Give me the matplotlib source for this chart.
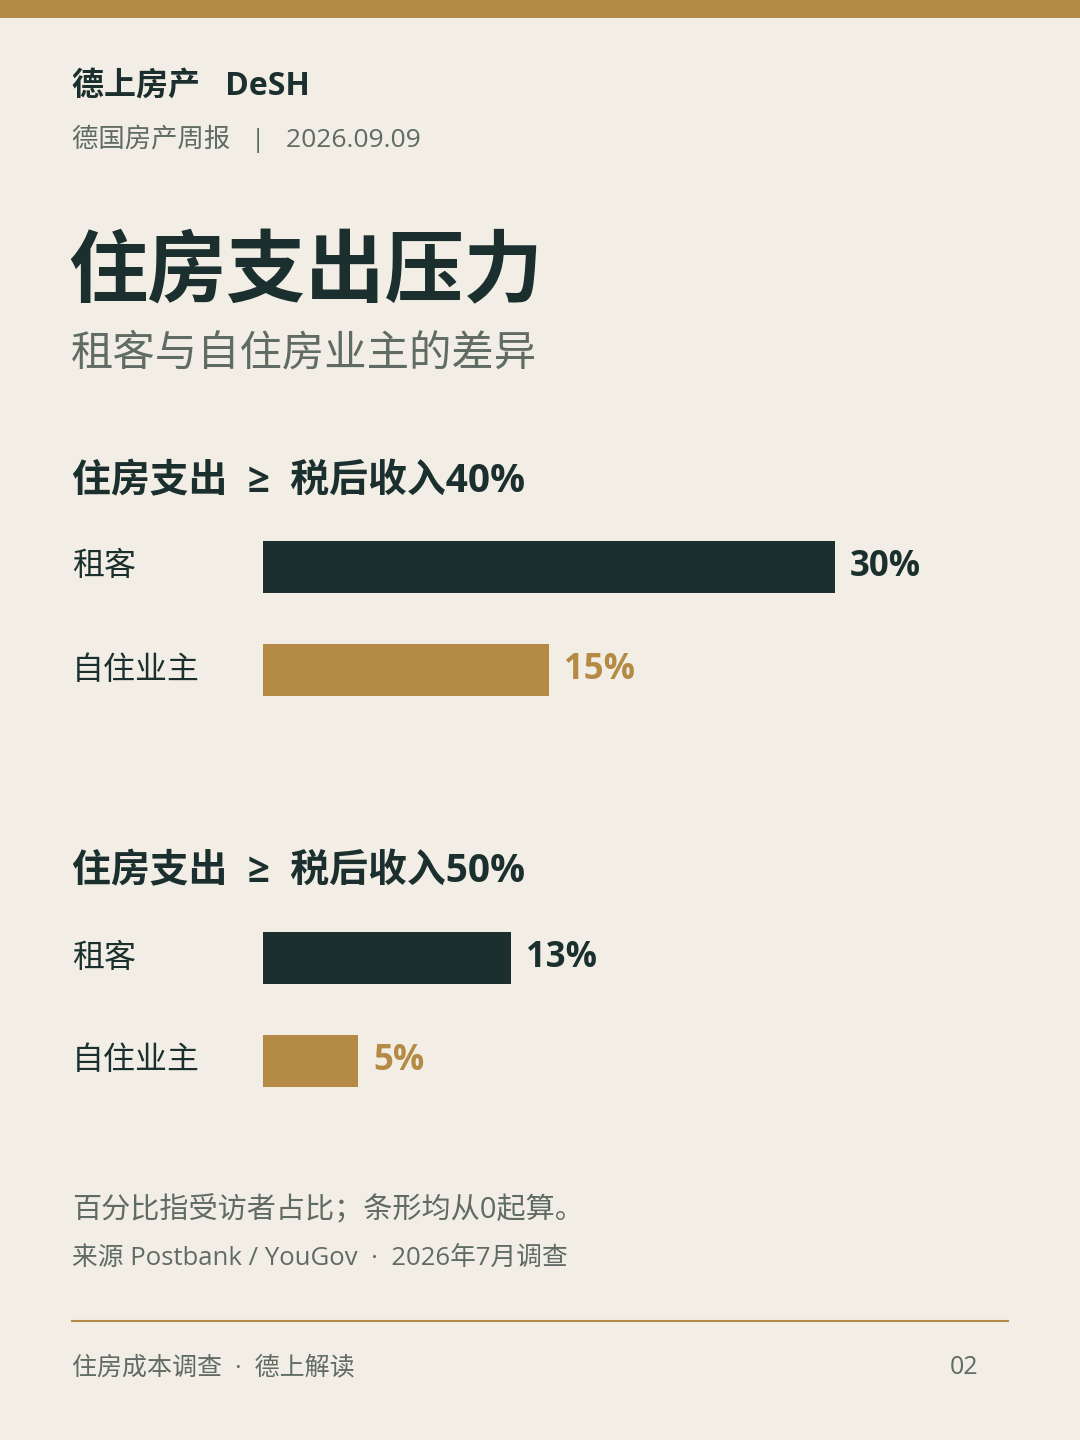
import matplotlib
matplotlib.use("Agg")
import matplotlib.pyplot as plt
from matplotlib.transforms import blended_transform_factory

W, H = 1080, 1440
BG = "#F2EEE5"
DARK = "#1B302E"
GOLD = "#B58A45"
GREY = "#5F6B63"

# Latin glyphs from Open Sans, the ≥ sign from DejaVu, Chinese from the CJK family
plt.rcParams["font.family"] = ["Open Sans", "DejaVu Sans", "Noto Sans CJK SC"]

# data
groups = ["住房支出  ≥  税后收入40%", "住房支出  ≥  税后收入50%"]
categories = ["租客", "自住业主"]
renters = [30, 13]
owners = [15, 5]

brand = "德上房产   DeSH"
issue = "德国房产周报   |   2026.09.09"
title = "住房支出压力"
subtitle = "租客与自住房业主的差异"
note = "百分比指受访者占比；条形均从0起算。"
source = "来源 Postbank / YouGov  ·  2026年7月调查"
footer_left = "住房成本调查  ·  德上解读"
footer_right = "02"

PX_PER_PCT = 19.05
BAR_X0 = 263
ROW_GAP = 103
first_bar_centers = [567, 958]
heading_y = [482, 872]


def fx(px):
    return px / W


def fy(py):
    return 1 - py / H


fig = plt.figure(figsize=(W / 100, H / 100), dpi=100)
fig.patch.set_facecolor(BG)

# top band
fig.add_artist(plt.Rectangle((0, fy(18)), 1, 18 / H, transform=fig.transFigure,
                             color=GOLD, lw=0))

fig.text(fx(72), fy(86), brand, fontsize=23, fontweight="bold", color=DARK, va="center")
fig.text(fx(72), fy(139), issue, fontsize=19, color=GREY, va="center")
fig.text(fx(68), fy(276), title, fontsize=57, fontweight="bold", color=DARK, va="center")
fig.text(fx(71), fy(355), subtitle, fontsize=30.5, color=GREY, va="center")

for g, name in enumerate(groups):
    fig.text(fx(72), fy(heading_y[g]), name, fontsize=28, fontweight="bold",
             color=DARK, va="center")
    top = first_bar_centers[g] - ROW_GAP / 2
    ax = fig.add_axes([fx(BAR_X0), fy(top + 2 * ROW_GAP),
                       40 * PX_PER_PCT / W, 2 * ROW_GAP / H])
    ax.set_xlim(0, 40)
    ax.set_ylim(1.5, -0.5)
    ax.axis("off")
    vals = [renters[g], owners[g]]
    colors = [DARK, GOLD]
    ax.barh([0, 1], vals, height=0.505, color=colors)
    trans = blended_transform_factory(fig.transFigure, ax.transData)
    for i, (cat, v, c) in enumerate(zip(categories, vals, colors)):
        ax.text(fx(72), i, cat, transform=trans, fontsize=23, color=DARK, va="center")
        ax.annotate(f"{v}%", (v, i), xytext=(11, 0), textcoords="offset points",
                    fontsize=25, fontweight="bold", color=c, va="center")

fig.text(fx(72), fy(1211), note, fontsize=21, color=GREY, va="center")
fig.text(fx(72), fy(1258), source, fontsize=18.5, color=GREY, va="center")

fig.add_artist(plt.Line2D([fx(72), fx(1008)], [fy(1321), fy(1321)],
                          transform=fig.transFigure, color=GOLD, lw=1.5))

fig.text(fx(72), fy(1368), footer_left, fontsize=18, color=GREY, va="center")
fig.text(fx(978), fy(1368), footer_right, fontsize=18, color=GREY, va="center", ha="right")

fig.savefig("out.png", dpi=100, facecolor=BG)
